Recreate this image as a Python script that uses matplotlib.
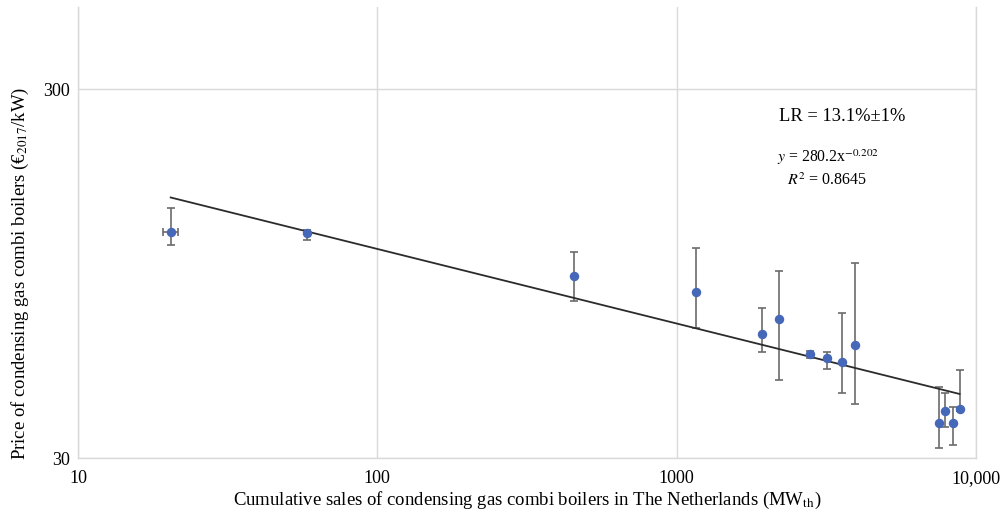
import numpy as np
import matplotlib
matplotlib.use('Agg')
import matplotlib.pyplot as plt
from matplotlib.ticker import FixedLocator, FixedFormatter, NullLocator

plt.rcParams['font.family'] = ['Liberation Serif', 'DejaVu Serif']
plt.rcParams['mathtext.fontset'] = 'stix'

# cumulative sales (MWth) and price (EUR2017/kW)
sales = [20.4, 58.2, 453, 1157, 1928, 2196, 2795, 3168, 3565, 3952, 7516, 7907, 8367, 8810]
price = [122.9, 122.2, 93.2, 84.4, 65.2, 71.6, 57.4, 56.0, 54.5, 60.6, 37.4, 40.2, 37.4, 40.7]
price_hi = [142.7, 124.3, 108.7, 111.4, 76.5, 96.4, 58.5, 58.1, 74.2, 101.3, 46.8, 45.1, 41.3, 52.1]
price_lo = [113.3, 117.0, 79.8, 67.4, 58.0, 48.8, 56.1, 52.4, 45.0, 42.0, 31.9, 36.4, 32.5, 40.2]
sales_err = [1.1, 0, 0, 0, 0, 0, 0, 0, 0, 0, 0, 0, 0, 0]

# power-law fit y = a * x^b
fit_a = 280.2
fit_b = -0.202

x_ticks = [10, 100, 1000, 10000]
x_ticklabels = ['10', '100', '1000', '10,000']
y_ticks = [30, 300]
y_ticklabels = ['30', '300']

W, H = 1003, 510
fig = plt.figure(figsize=(W / 100, H / 100), dpi=100)
ax = fig.add_axes([78 / W, 1 - 459 / H, (976 - 78) / W, (459 - 8) / H])

ax.set_xscale('log')
ax.set_yscale('log')
ax.set_xlim(10, 10000)
ax.set_ylim(30, 500)

sales = np.array(sales)
price = np.array(price)
yerr = [price - np.array(price_lo), np.array(price_hi) - price]

# trend line over the data range
xs = np.logspace(np.log10(sales.min()), np.log10(sales.max()), 200)
ax.plot(xs, fit_a * xs ** fit_b, color='#2b2b2b', lw=1.3, zorder=3)

ax.errorbar(sales, price, yerr=yerr, xerr=sales_err, fmt='none',
            ecolor='#6b6b6b', elinewidth=1.2, capsize=3, capthick=1.2, zorder=2)
ax.plot(sales, price, 'o', color='#4668b8', ms=5.8, mec='#4668b8', zorder=4)

ax.xaxis.set_major_locator(FixedLocator(x_ticks))
ax.xaxis.set_major_formatter(FixedFormatter(x_ticklabels))
ax.yaxis.set_major_locator(FixedLocator(y_ticks))
ax.yaxis.set_major_formatter(FixedFormatter(y_ticklabels))
ax.xaxis.set_minor_locator(NullLocator())
ax.yaxis.set_minor_locator(NullLocator())
ax.tick_params(length=0, labelsize=13, pad=8)
ax.tick_params(axis='y', pad=6)

ax.grid(True, color='#d9d9d9', lw=1)
ax.set_axisbelow(True)
for side in ['left', 'bottom', 'right']:
    ax.spines[side].set_color('#d9d9d9')
    ax.spines[side].set_linewidth(1)
ax.spines['top'].set_visible(False)

ax.set_xlabel('Cumulative sales of condensing gas combi boilers in The Netherlands (MW$_{\\mathrm{th}}$)',
              fontsize=13.5, labelpad=2)
ax.set_ylabel('Price of condensing gas combi boilers (€$_{2017}$/kW)', fontsize=13.5)
ax.yaxis.set_label_coords(-0.0523, (459 - 273) / 451)

fig.text(779 / W, 1 - 117 / H, 'LR = 13.1%±1%', fontsize=13.3, va='center', ha='left')
fig.text(777 / W, 1 - 157 / H, '$y$ = 280.2x$^{\\mathrm{\u22120.202}}$', fontsize=11.3, va='center', ha='left')
fig.text(787 / W, 1 - 181 / H, '$R^2$ = 0.8645', fontsize=11.5, va='center', ha='left')

fig.savefig('out.png', dpi=100)
